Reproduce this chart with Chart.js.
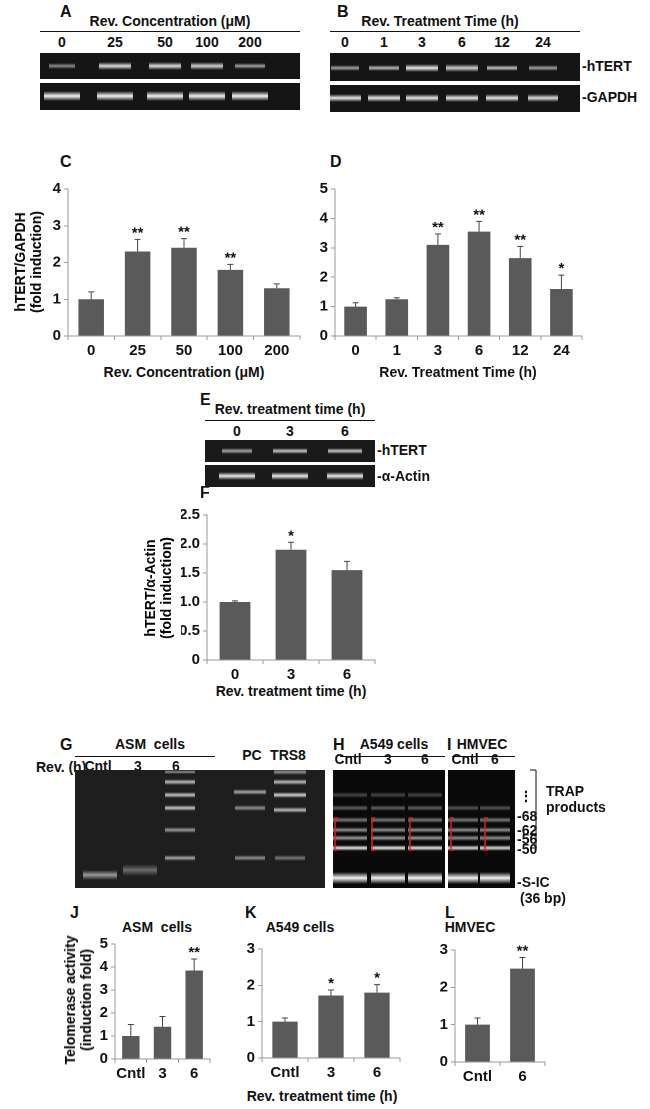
<!DOCTYPE html><html><head><meta charset="utf-8">
<script src="https://cdn.jsdelivr.net/npm/chart.js@4"></script>
<style>
body{margin:0;width:650px;height:1109px;background:#fff;position:relative;font-family:"Liberation Sans",Arial,sans-serif;overflow:hidden}
.t{position:absolute;font-weight:bold;font-size:14px;color:#111;white-space:nowrap}
.c{transform:translateX(-50%)}
.L{font-size:16px}
.ln{position:absolute;height:1px;background:#111}
canvas{position:absolute}
.yt{position:absolute;transform:translate(-50%,-50%) rotate(-90deg);text-align:center;font-weight:bold;font-size:14px;line-height:16px;white-space:nowrap}
</style></head><body>
<script>
// ---- data ----
const catC=['0','25','50','100','200'], valC=[1.0,2.3,2.4,1.8,1.3], errC=[0.2,0.33,0.25,0.15,0.12], sigC=['','**','**','**',''];
const catD=['0','1','3','6','12','24'], valD=[1.0,1.25,3.1,3.55,2.65,1.6], errD=[0.13,0.05,0.37,0.35,0.4,0.47], sigD=['','','**','**','**','*'];
const catF=['0','3','6'], valF=[1.0,1.9,1.55], errF=[0.02,0.13,0.15], sigF=['','*',''];
const catJ=['Cntl','3','6'], valJ=[1.0,1.4,3.85], errJ=[0.5,0.45,0.5], sigJ=['','','**'];
const catK=['Cntl','3','6'], valK=[1.0,1.72,1.8], errK=[0.1,0.15,0.22], sigK=['','*','*'];
const catL=['Cntl','6'], valL=[1.0,2.5], errL=[0.18,0.3], sigL=['','**'];

function txt(s,x,y,cls){const d=document.createElement('div');d.className='t '+(cls||'');d.innerHTML=s;d.style.left=x+'px';d.style.top=(y-9)+'px';document.body.appendChild(d);}
function line(x1,x2,y){const d=document.createElement('div');d.className='ln';d.style.left=x1+'px';d.style.width=(x2-x1)+'px';d.style.top=y+'px';document.body.appendChild(d);}
function ytitle(s,x,y){const d=document.createElement('div');d.className='yt';d.innerHTML=s;d.style.left=x+'px';d.style.top=y+'px';document.body.appendChild(d);}

const errPlugin={id:'err',afterDatasetsDraw(ch){const ctx=ch.ctx,o=ch.options.plugins.err,m=ch.getDatasetMeta(0),ys=ch.scales.y;
 ctx.save();ctx.strokeStyle='#444';ctx.lineWidth=1;ctx.fillStyle='#111';ctx.font='bold 15px "Liberation Sans"';ctx.textAlign='center';
 m.data.forEach((b,i)=>{const v=o.vals[i],e=o.errs[i],x=b.x,y1=ys.getPixelForValue(v),y2=ys.getPixelForValue(v+e);
  ctx.beginPath();ctx.moveTo(x,y1);ctx.lineTo(x,y2);ctx.moveTo(x-3,y2);ctx.lineTo(x+3,y2);ctx.stroke();
  if(o.sig[i])ctx.fillText(o.sig[i],x,y2-2);});ctx.restore();}};

function bar(cats,vals,errs,sig,L,R,T,B,max,step,fs){
 const yw=26,xh=22,pt=12,ex=20;
 const cv=document.createElement('canvas');const w=R-L+yw+4+ex,h=B-T+xh+pt;
 cv.style.left=(L-yw-ex)+'px';cv.style.top=(T-pt)+'px';cv.style.width=w+'px';cv.style.height=h+'px';document.body.appendChild(cv);
 new Chart(cv,{type:'bar',data:{labels:cats,datasets:[{data:vals,backgroundColor:'#5a5a5a',barPercentage:0.55,categoryPercentage:1}]},
 options:{responsive:false,animation:false,devicePixelRatio:2,layout:{padding:{top:pt,right:4,left:ex,bottom:0}},
  plugins:{legend:{display:false},tooltip:{enabled:false},err:{vals,errs,sig}},
  scales:{x:{afterFit(s){s.height=xh;s.paddingLeft=0;s.paddingRight=0},grid:{display:true,drawOnChartArea:false,offset:true,tickLength:4,color:'#999'},border:{color:'#999'},ticks:{autoSkip:false,maxRotation:0,minRotation:0,color:'#111',font:{size:fs||15,weight:'bold',family:'Liberation Sans'},padding:2}},
   y:{min:0,max:max,afterFit(s){s.width=yw},grid:{display:true,drawOnChartArea:false,tickLength:4,color:'#999'},border:{color:'#999'},ticks:{stepSize:step,color:'#111',font:{size:15,weight:'bold',family:'Liberation Sans'},padding:3}}}},
 plugins:[errPlugin]});
}

function gel(x,y,w,h,lanes,bands,bg){
 const cv=document.createElement('canvas');cv.width=w*2;cv.height=h*2;cv.style.left=x+'px';cv.style.top=y+'px';cv.style.width=w+'px';cv.style.height=h+'px';document.body.appendChild(cv);
 const c=cv.getContext('2d');c.scale(2,2);c.fillStyle=bg||'#151515';c.fillRect(0,0,w,h);
 bands.forEach(b=>{const lx=lanes[b[0]]-x;const g=c.createLinearGradient(0,b[1]-y-b[3],0,b[1]-y+b[3]);const a=b[2];
  g.addColorStop(0,'rgba(255,255,255,0)');g.addColorStop(0.5,'rgba(255,255,255,'+a+')');g.addColorStop(1,'rgba(255,255,255,0)');
  c.fillStyle=g;c.fillRect(lx-b[4]/2,b[1]-y-b[3],b[4],2*b[3]);});
}

// Labels A/B
txt('A',60,12,'L');txt('B',337,12,'L');
txt('Rev. Concentration (μM)',170,22,'c');line(40,300,31);
const lA=[62,115,165,207,250];catC.forEach((c,i)=>txt(c,lA[i],43,'c'));
gel(40,53,260,26,lA,[[0,66,.5,3,26],[1,66,.85,4,32],[2,66,.85,4,32],[3,66,.8,4,32],[4,66,.6,3,30]]);
gel(40,83,260,27,lA,[[0,96,.95,5,36],[1,96,.95,5,36],[2,96,.95,5,36],[3,96,.95,5,36],[4,96,.95,5,36]]);
txt('Rev. Treatment Time (h)',440,22,'c');line(330,580,31);
const lB=[345,384,422,462,502,543];catD.forEach((c,i)=>txt(c,lB[i],43,'c'));
gel(330,53,250,28,lB,[[0,68,.6,3,28],[1,68,.7,3,30],[2,68,.9,4,32],[3,68,.8,4,32],[4,68,.75,3,30],[5,68,.6,3,28]]);
gel(330,85,250,27,lB,[[0,98,.9,4,32],[1,98,.9,4,32],[2,98,.9,4,32],[3,98,.9,4,32],[4,98,.9,4,32],[5,98,.85,4,30]]);
txt('-hTERT',582,67);txt('-GAPDH',582,98);

// C & D
txt('C',60,162,'L');txt('D',330,162,'L');
bar(catC,valC,errC,sigC,68,300,189,336,4,1);
ytitle('hTERT/GAPDH<br>(fold induction)',28,262);
txt('Rev. Concentration (μM)',184,373,'c');
bar(catD,valD,errD,sigD,335,582,189,336,5,1);
txt('Rev. Treatment Time (h)',458,373,'c');

// E
txt('E',200,400,'L');
txt('Rev. treatment time (h)',290,410,'c');line(205,375,420);
const lE=[237,290,345];catF.forEach((c,i)=>txt(c,lE[i],432,'c'));
gel(205,440,170,22,lE,[[0,451,.6,3,30],[1,451,.75,3,34],[2,451,.75,3,34]],'#1a1a1a');
gel(205,465,170,22,lE,[[0,476,.9,4,36],[1,476,.9,4,36],[2,476,.9,4,36]],'#1a1a1a');
txt('-hTERT',377,451);txt('-α-Actin',377,477);

// F
txt('F',200,493,'L');
bar(catF,valF,errF,sigF,207,375,515,660,2.5,0.5);
ytitle('hTERT/α-Actin<br>(fold induction)',158,588);
txt('Rev. treatment time (h)',291,692,'c');

// G H I
txt('G',60,745,'L');txt('H',333,745,'L');txt('I',447,745,'L');
txt('ASM&nbsp; cells',150,745,'c');line(75,215,756);
txt('Rev. (h)',36,768);
const lG=[100,140,180,250,290];
txt('Cntl',98,767,'c');txt('3',138,767,'c');txt('6',176,767,'c');txt('PC',252,756,'c');txt('TRS8',288,756,'c');
const gb=[[0,875,.55,5,34],[1,870,.35,6,34],[2,858,.6,3,30],[2,830,.55,3,30],[2,808,.75,3,30],[2,795,.75,3,30],[2,782,.7,3,30],[2,772,.5,2,30],
 [3,858,.5,3,30],[3,808,.5,3,30],[3,792,.6,3,32],[4,858,.4,3,30],[4,810,.7,3,32],[4,795,.8,3,32],[4,782,.7,3,32],[4,772,.5,3,32]];
gel(75,770,250,118,lG,gb,'#1e1e1e');
txt('A549 cells',394,745,'c');line(340,445,756);
const lH=[350,388,425];txt('Cntl',348,760,'c');txt('3',388,760,'c');txt('6',425,760,'c');
const hb=[];[0,1,2].forEach(i=>{hb.push([i,878,.95,6,34],[i,848,.9,3,34],[i,838,.6,3,34],[i,830,.55,3,34],[i,820,.45,3,34],[i,808,.35,3,34],[i,795,.25,3,34])});
gel(333,770,112,118,lH,hb,'#0a0a0a');
txt('HMVEC',482,745,'c');line(452,515,756);
const lI=[463,495];txt('Cntl',465,760,'c');txt('6',495,760,'c');
const ib=[];[0,1].forEach(i=>{ib.push([i,878,.95,6,30],[i,848,.85,3,30],[i,838,.55,3,30],[i,830,.55,3,30],[i,820,.45,3,30],[i,808,.3,3,30])});
gel(448,770,67,118,lI,ib,'#0a0a0a');
const rc=document.createElement('canvas');rc.width=650;rc.height=140;rc.style.left='0px';rc.style.top='760px';rc.style.width='650px';rc.style.height='140px';document.body.appendChild(rc);
{const c=rc.getContext('2d');c.strokeStyle='#e02020';c.lineWidth=1.5;[335,372,410,451,485].forEach(x=>{c.beginPath();c.moveTo(x+3,58);c.lineTo(x,58);c.lineTo(x,90);c.lineTo(x+3,90);c.stroke();});
 c.strokeStyle='#111';c.lineWidth=1;c.beginPath();c.moveTo(530,10);c.lineTo(536,10);c.lineTo(536,88);c.lineTo(530,88);c.stroke();}
txt('⋮',519,797);txt('-68',517,817);txt('-62',517,831);txt('-56',517,840);txt('-50',517,850);
txt('TRAP',546,792);txt('products',546,808);
txt('-S-IC',517,883);txt('(36 bp)',520,899);

// J K L
txt('J',70,913,'L');txt('K',245,913,'L');txt('L',445,913,'L');
txt('ASM&nbsp; cells',157,928,'c');txt('A549 cells',300,928,'c');txt('HMVEC',470,928,'c');
bar(catJ,valJ,errJ,sigJ,115,210,944,1059,5,1);
ytitle('Telomerase activity<br>(induction fold)',78,1000);
bar(catK,valK,errK,sigK,262,400,949,1058,3,1);
bar(catL,valL,errL,sigL,455,545,950,1062,3,1);
txt('Rev. treatment time (h)',322,1097,'c');
</script></body></html>
